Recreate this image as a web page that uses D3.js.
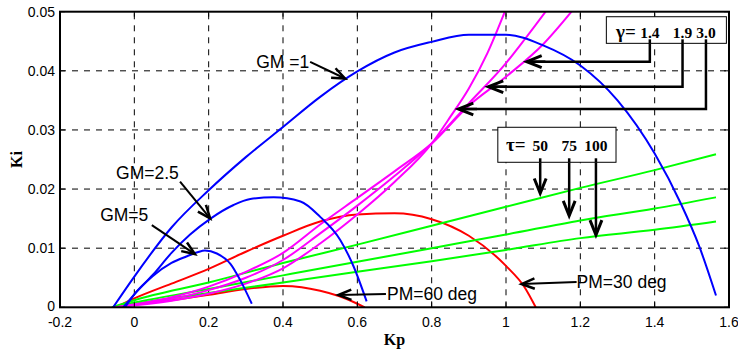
<!DOCTYPE html>
<html><head><meta charset="utf-8">
<script src="https://cdn.jsdelivr.net/npm/d3@7"></script>
<style>body{margin:0;background:#fff}svg{display:block}</style>
</head><body>
<svg id="c" width="738" height="352"></svg>
<script>
// ---------- data ----------
const xTicks = [-0.2, 0, 0.2, 0.4, 0.6, 0.8, 1, 1.2, 1.4, 1.6];
const xTickLabels = ["-0.2", "0", "0.2", "0.4", "0.6", "0.8", "1", "1.2", "1.4", "1.6"];
const yTicks = [0, 0.01, 0.02, 0.03, 0.04, 0.05];
const yTickLabels = ["0", "0.01", "0.02", "0.03", "0.04", "0.05"];

// Gain margin curves (blue)
const gm1Kp = [-0.057, 0.0, 0.1, 0.2, 0.3, 0.4, 0.5, 0.6, 0.7, 0.8, 0.9, 1.0, 1.1, 1.2, 1.3, 1.4, 1.47, 1.52, 1.565];
const gm1Ki = [0, 0.0052, 0.0135, 0.0198, 0.0254, 0.0305, 0.0356, 0.0399, 0.0431, 0.0449, 0.0461, 0.0461, 0.0443, 0.0409, 0.0350, 0.0260, 0.0176, 0.0103, 0.0020];
const gm25Kp = [-0.03, 0.0, 0.05, 0.1, 0.15, 0.205, 0.267, 0.312, 0.375, 0.447, 0.50, 0.554, 0.59, 0.625];
const gm25Ki = [0, 0.0022, 0.0055, 0.0092, 0.0123, 0.0150, 0.0173, 0.0183, 0.0186, 0.0179, 0.0153, 0.0114, 0.0069, 0.0010];
const gm5Kp = [-0.025, 0.0, 0.05, 0.1, 0.14, 0.17, 0.19, 0.222, 0.258, 0.285, 0.316];
const gm5Ki = [0, 0.0022, 0.0053, 0.0075, 0.0086, 0.0093, 0.0096, 0.0091, 0.0074, 0.0046, 0.0006];

// Phase margin curves (red)
const pm30Kp = [-0.05, 0.0, 0.1, 0.2, 0.3, 0.4, 0.5, 0.6, 0.7, 0.8, 0.9, 1.0, 1.05, 1.08];
const pm30Ki = [0, 0.0015, 0.0040, 0.0065, 0.0094, 0.0121, 0.0145, 0.0157, 0.0159, 0.0149, 0.0121, 0.0070, 0.0034, 0.0];
const pm60Kp = [-0.05, 0.0, 0.1, 0.2, 0.3, 0.4, 0.45, 0.5, 0.55, 0.6, 0.62];
const pm60Ki = [0, 0.0005, 0.0012, 0.0021, 0.0031, 0.0036, 0.0034, 0.0028, 0.0019, 0.0006, 0.0];

// gamma curves (magenta)
const g14Kp = [-0.05, 0.1, 0.2, 0.3, 0.4, 0.5, 0.6, 0.7, 0.8, 0.9, 1.0, 1.1, 1.18];
const g14Ki = [0, 0.0017, 0.0035, 0.0060, 0.0092, 0.0140, 0.0185, 0.0230, 0.0277, 0.0341, 0.0390, 0.0445, 0.0503];
const g19Kp = [-0.05, 0.1, 0.2, 0.3, 0.4, 0.5, 0.6, 0.7, 0.8, 0.9, 1.0, 1.05, 1.11];
const g19Ki = [0, 0.0014, 0.0029, 0.0050, 0.0080, 0.0125, 0.0172, 0.0222, 0.0277, 0.0345, 0.0413, 0.0453, 0.0503];
const g30Kp = [-0.05, 0.1, 0.2, 0.3, 0.4, 0.5, 0.6, 0.7, 0.8, 0.85, 0.9, 0.95, 1.0];
const g30Ki = [0, 0.0011, 0.0023, 0.0040, 0.0066, 0.0108, 0.0157, 0.0212, 0.0277, 0.0322, 0.0370, 0.0430, 0.0505];

// tau curves (green)
const t50Kp = [-0.06, 0.0, 0.2, 0.4, 0.6, 0.8, 1.0, 1.2, 1.4, 1.565];
const t50Ki = [0, 0.0012, 0.0042, 0.0075, 0.0106, 0.0138, 0.0170, 0.0202, 0.0232, 0.0259];
const t75Kp = [-0.06, 0.0, 0.2, 0.4, 0.6, 0.8, 1.0, 1.2, 1.4, 1.565];
const t75Ki = [0, 0.0008, 0.0031, 0.0054, 0.0077, 0.0100, 0.0123, 0.0147, 0.0167, 0.0186];
const t100Kp = [-0.06, 0.0, 0.2, 0.4, 0.6, 0.8, 1.0, 1.2, 1.4, 1.565];
const t100Ki = [0, 0.0006, 0.0024, 0.0042, 0.0060, 0.0078, 0.0097, 0.0117, 0.0131, 0.0145];

const gammaLabels = ["1.4", "1.9", "3.0"];
const tauLabels = ["50", "75", "100"];

// ---------- layout ----------
const W = 738, H = 352;
const L = 60, R = 729, T = 11.7, B = 307.3;
const svg = d3.select("#c");
const x = d3.scaleLinear().domain([-0.2, 1.6]).range([L, R]);
const y = d3.scaleLinear().domain([0, 0.05]).range([B, T]);
const sans = "'Liberation Sans', Arial, sans-serif";
const serif = "'Liberation Serif', 'Times New Roman', serif";

svg.append("rect").attr("width", W).attr("height", H).attr("fill", "#fff");
svg.append("rect").attr("x", L).attr("y", T).attr("width", R - L).attr("height", B - T).attr("fill", "#fff");

// grid
const grid = svg.append("g").attr("stroke", "#000").attr("stroke-width", 1).attr("stroke-dasharray", "6,6");
xTicks.slice(1, -1).forEach(v => grid.append("line").attr("x1", x(v)).attr("x2", x(v)).attr("y1", B).attr("y2", T));
yTicks.slice(1, -1).forEach(v => grid.append("line").attr("y1", y(v)).attr("y2", y(v)).attr("x1", L).attr("x2", R));

// clip
svg.append("clipPath").attr("id", "clip").append("rect").attr("x", L).attr("y", T).attr("width", R - L).attr("height", B - T);
const plot = svg.append("g").attr("clip-path", "url(#clip)");
const line = d3.line().x(d => x(d[0])).y(d => y(d[1])).curve(d3.curveMonotoneX);
const series = [
  [pm60Kp, pm60Ki, "#ff0000"], [pm30Kp, pm30Ki, "#ff0000"],
  [t50Kp, t50Ki, "#00ff00"], [t75Kp, t75Ki, "#00ff00"], [t100Kp, t100Ki, "#00ff00"],
  [g14Kp, g14Ki, "#ff00ff"], [g19Kp, g19Ki, "#ff00ff"], [g30Kp, g30Ki, "#ff00ff"],
  [gm1Kp, gm1Ki, "#0000ff"], [gm25Kp, gm25Ki, "#0000ff"], [gm5Kp, gm5Ki, "#0000ff"]
];
series.forEach(([kp, ki, c]) => {
  plot.append("path").datum(kp.map((k, i) => [k, ki[i]]))
    .attr("d", line).attr("fill", "none").attr("stroke", c).attr("stroke-width", 2)
    .attr("stroke-linejoin", "round");
});

// axes frame + ticks
const ax = svg.append("g");
ax.append("rect").attr("x", L).attr("y", T).attr("width", R - L).attr("height", B - T)
  .attr("fill", "none").attr("stroke", "#000").attr("stroke-width", 2);
xTicks.forEach((v, i) => {
  ax.append("line").attr("x1", x(v)).attr("x2", x(v)).attr("y1", B).attr("y2", B - 5).attr("stroke", "#000");
  ax.append("line").attr("x1", x(v)).attr("x2", x(v)).attr("y1", T).attr("y2", T + 5).attr("stroke", "#000");
  ax.append("text").attr("x", x(v)).attr("y", 327).attr("text-anchor", "middle")
    .attr("font-family", sans).attr("font-size", 14).text(xTickLabels[i]);
});
yTicks.forEach((v, i) => {
  ax.append("line").attr("x1", L).attr("x2", L + 5).attr("y1", y(v)).attr("y2", y(v)).attr("stroke", "#000");
  ax.append("line").attr("x1", R).attr("x2", R - 5).attr("y1", y(v)).attr("y2", y(v)).attr("stroke", "#000");
  ax.append("text").attr("x", 55).attr("y", y(v) + (i === 0 ? 3.5 : 5)).attr("text-anchor", "end")
    .attr("font-family", sans).attr("font-size", 14).text(yTickLabels[i]);
});
svg.append("text").attr("x", (L + R) / 2).attr("y", 345).attr("text-anchor", "middle")
  .attr("font-family", serif).attr("font-weight", "bold").attr("font-size", 16).text("Kp");
svg.append("text").attr("transform", `translate(22,${(T + B) / 2}) rotate(-90)`).attr("text-anchor", "middle")
  .attr("font-family", serif).attr("font-weight", "bold").attr("font-size", 16).text("Ki");

// ---------- annotations (positions in data units) ----------
const ann = svg.append("g");
function arrow(p0, p1, w, head) {
  const x0 = x(p0[0]), y0 = y(p0[1]), x1 = x(p1[0]), y1 = y(p1[1]);
  ann.append("line").attr("x1", x0).attr("y1", y0).attr("x2", x1).attr("y2", y1)
    .attr("stroke", "#000").attr("stroke-width", w);
  const a = Math.atan2(y1 - y0, x1 - x0), hl = head || 14, sp = 0.38;
  const p = [[x1 - hl * Math.cos(a - sp), y1 - hl * Math.sin(a - sp)], [x1, y1], [x1 - hl * Math.cos(a + sp), y1 - hl * Math.sin(a + sp)]];
  ann.append("path").attr("d", d3.line()(p)).attr("fill", "none").attr("stroke", "#000")
    .attr("stroke-width", w + 0.5).attr("stroke-linejoin", "miter");
}
function label(p, t) {
  ann.append("text").attr("x", x(p[0])).attr("y", y(p[1])).attr("font-family", sans)
    .attr("font-size", 17.5).attr("fill", "#000").text(t);
}
label([0.328, 0.0404], "GM =1");      arrow([0.473, 0.0415], [0.567, 0.0387], 2);
label([-0.049, 0.02165], "GM=2.5");   arrow([0.123, 0.02125], [0.204, 0.01505], 2);
label([-0.092, 0.0146], "GM=5");      arrow([0.047, 0.0139], [0.163, 0.0090], 2);
label([0.680, 0.00123], "PM=60 deg"); arrow([0.677, 0.00225], [0.549, 0.00208], 2);
label([1.190, 0.00321], "PM=30 deg"); arrow([1.190, 0.00428], [1.042, 0.00394], 2);

// gamma box
const gBox = [1.270, 1.593, 0.04915, 0.04465];
const gCols = [1.387, 1.475, 1.538], gLevels = [0.04155, 0.03731, 0.03354], gTips = [1.056, 0.9526, 0.872];
gCols.forEach((c, i) => {
  ann.append("path").attr("d", d3.line()([[x(c), y(gBox[3]) - 3], [x(c), y(gLevels[i])], [x(gTips[i]) + 2, y(gLevels[i])]]))
    .attr("fill", "none").attr("stroke", "#000").attr("stroke-width", 2.5);
  arrow([gTips[i] + 0.05, gLevels[i]], [gTips[i], gLevels[i]], 2.5, 16);
});
ann.append("rect").attr("x", x(gBox[0])).attr("y", y(gBox[2])).attr("width", x(gBox[1]) - x(gBox[0]))
  .attr("height", y(gBox[3]) - y(gBox[2])).attr("fill", "#fff").attr("stroke", "#000").attr("stroke-width", 1);
gCols.forEach(c => ann.append("line").attr("x1", x(c)).attr("x2", x(c)).attr("y1", y(gBox[3]) - 4).attr("y2", y(gBox[3]))
  .attr("stroke", "#000").attr("stroke-width", 2.5));
const gt = ann.append("text").attr("y", 37.8).attr("font-family", serif).attr("font-weight", "bold").attr("font-size", 15.5);
gt.append("tspan").attr("x", 616).attr("font-size", 19).text("γ=");
gammaLabels.forEach((s, i) => gt.append("tspan").attr("x", x(gCols[i])).attr("text-anchor", "middle").text(s));

// tau box
const tBox = [0.978, 1.296, 0.03045, 0.02453];
const tCols = [1.092, 1.170, 1.242], tTips = [0.01928, 0.01549, 0.01223];
tCols.forEach((c, i) => arrow([c, tBox[3]], [c, tTips[i]], 2.5, 16));
ann.append("rect").attr("x", x(tBox[0])).attr("y", y(tBox[2])).attr("width", x(tBox[1]) - x(tBox[0]))
  .attr("height", y(tBox[3]) - y(tBox[2])).attr("fill", "#fff").attr("stroke", "#000").attr("stroke-width", 1);
tCols.forEach(c => ann.append("line").attr("x1", x(c)).attr("x2", x(c)).attr("y1", y(tBox[3]) - 4).attr("y2", y(tBox[3]))
  .attr("stroke", "#000").attr("stroke-width", 2.5));
const tt = ann.append("text").attr("y", 151).attr("font-family", serif).attr("font-weight", "bold").attr("font-size", 15.5);
tt.append("tspan").attr("x", 506).attr("font-size", 19).text("τ=");
tauLabels.forEach((s, i) => tt.append("tspan").attr("x", x(tCols[i])).attr("text-anchor", "middle").text(s));
</script>
</body></html>
